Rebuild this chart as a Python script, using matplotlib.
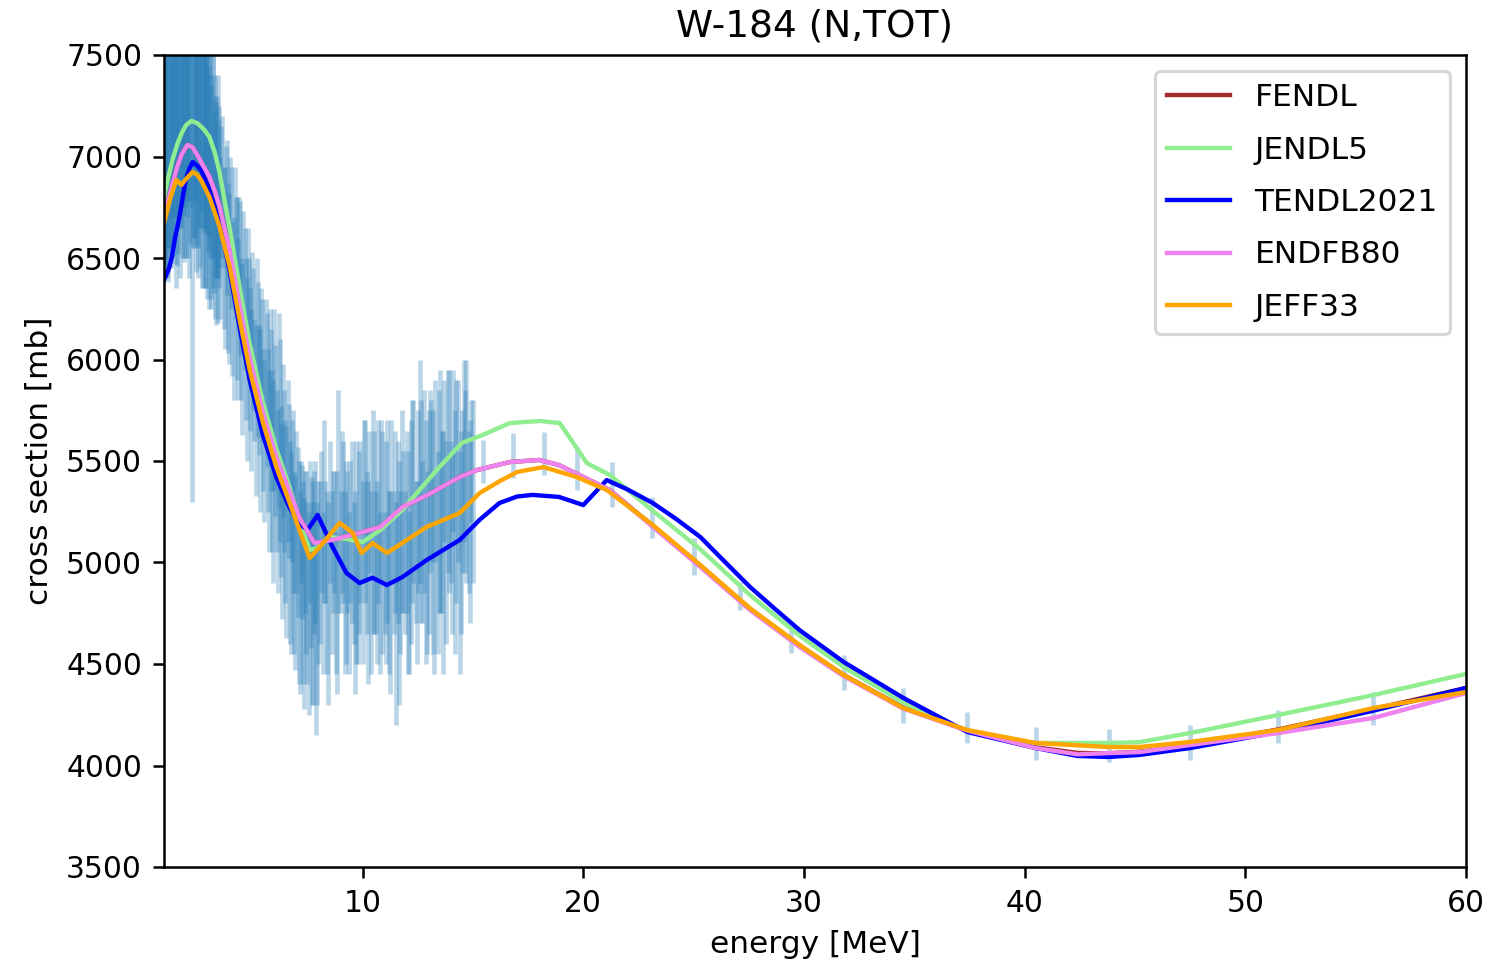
import numpy as np
import matplotlib
matplotlib.use('Agg')
import matplotlib.pyplot as plt

# experimental points (energy MeV, cross section mb, uncertainty mb)
expE = [1.00, 1.05, 1.10, 1.15, 1.20, 1.25, 1.30, 1.35, 1.40, 1.45,
        1.50, 1.55, 1.60, 1.65, 1.70, 1.75, 1.80, 1.85, 1.90, 1.95,
        2.00, 2.05, 2.10, 2.15, 2.20, 2.25, 2.30, 2.35, 2.40, 2.45,
        2.50, 2.55, 2.60, 2.65, 2.70, 2.75, 2.80, 2.85, 2.90, 2.95,
        3.00, 3.05, 3.10, 3.15, 3.20, 3.25, 3.30, 3.35, 3.40, 3.45,
        3.50,
        1.025, 1.125, 1.225, 1.325, 1.425, 1.525, 1.625, 1.725, 1.825, 1.925,
        2.025, 2.125, 2.225, 2.325, 2.425, 2.525, 2.625, 2.725, 2.825, 2.925,
        3.025, 3.125, 3.225, 3.325, 3.425,
        3.6, 3.7, 3.8, 3.9, 4.0, 4.1, 4.2, 4.3, 4.4, 4.5,
        4.6, 4.7, 4.8, 4.9, 5.0, 5.1, 5.2, 5.3, 5.4, 5.5,
        5.6, 5.7, 5.8, 5.9, 6.0, 6.1, 6.2, 6.3, 6.4, 6.5,
        6.6, 6.7, 6.8, 6.9, 7.0, 7.1, 7.2, 7.3, 7.4, 7.5,
        7.6, 7.7, 7.8, 7.9, 8.0, 8.1, 8.2, 8.3, 8.4, 8.5,
        8.6, 8.7, 8.8, 8.9, 9.0, 9.1, 9.2, 9.3, 9.4, 9.5,
        9.6, 9.7, 9.8, 9.9, 10.0, 10.1, 10.2, 10.3, 10.4, 10.5,
        10.6, 10.7, 10.8, 10.9, 11.0, 11.1, 11.2, 11.3, 11.4, 11.5,
        11.6, 11.7, 11.8, 11.9, 12.0, 12.1, 12.2, 12.3, 12.4, 12.5,
        12.6, 12.7, 12.8, 12.9, 13.0, 13.1, 13.2, 13.3, 13.4, 13.5,
        13.6, 13.7, 13.8, 13.9, 14.0, 14.1, 14.2, 14.3, 14.4, 14.5,
        14.6, 14.7, 14.8, 14.9, 15.0,
        3.55, 3.65, 3.75, 3.85, 3.95, 4.05, 4.15, 4.25, 4.35, 4.45,
        4.55, 4.65, 4.75, 4.85, 4.95, 5.05, 5.15, 5.25, 5.35, 5.45,
        5.55, 5.65, 5.75, 5.85, 5.95, 6.05, 6.15, 6.25, 6.35, 6.45,
        6.55, 6.65, 6.75, 6.85, 6.95, 7.05, 7.15, 7.25, 7.35, 7.45,
        7.55, 7.65, 7.75, 7.85, 7.95,
        8.05, 8.25, 8.45, 8.65, 8.85, 9.05, 9.25, 9.45, 9.65, 9.85,
        10.05, 10.25, 10.45, 10.65, 10.85, 11.05, 11.25, 11.45, 11.65, 11.85,
        12.05, 12.25, 12.45, 12.65, 12.85, 13.05, 13.25, 13.45, 13.65, 13.85,
        14.05, 14.25, 14.45, 14.65, 14.85,
        15.44, 16.8, 18.2, 19.7, 21.3, 23.1, 25.0, 27.1, 29.4, 31.8,
        34.5, 37.4, 40.5, 43.8, 47.5, 51.5, 55.8]
expXS = [7020, 6950, 7100, 7050, 6980, 7150, 7080, 7200, 7010, 7180,
         7120, 7250, 7060, 7220, 7150, 7300, 7100, 7260, 7180, 7350,
         7150, 7280, 7200, 7380, 7120, 6100, 7250, 7150, 7330, 7080,
         7260, 7100, 7300, 7050, 7220, 7000, 7180, 6950, 7120, 6900,
         7080, 6850, 7000, 6800, 6950, 6780, 6900, 6720, 6850, 6680,
         6800,
         7100, 6950, 7200, 7050, 7250, 7000, 7300, 7100, 7350, 7150,
         7300, 7100, 7400, 7150, 7300, 7050, 7250, 7000, 7200, 6950,
         7100, 6850, 7000, 6750, 6900,
         6800, 6550, 6750, 6450, 6700, 6300, 6600, 6350, 6500, 6150,
         6450, 6100, 6350, 6000, 6250, 5900, 6150, 5850, 6050, 5700,
         6000, 5650, 5900, 5500, 5800, 5450, 5750, 5350, 5600, 5250,
         5500, 5100, 5350, 5000, 5250, 4950, 5200, 4900, 5100, 4850,
         5150, 4800, 5050, 4700, 4950, 5200, 4850, 5100, 4900, 5250,
         4950, 5150, 4800, 5300, 5050, 5200, 4900, 5100, 4850, 5150,
         4950, 5050, 4800, 5200, 4950, 5250, 5050, 5300, 4900, 5150,
         5000, 5250, 4850, 5100, 4950, 5200, 4900, 5300, 5000, 4750,
         5150, 4950, 5250, 5000, 5200, 4850, 5150, 5350, 5050, 5300,
         5450, 5100, 5350, 5000, 5200, 5400, 5150, 5450, 5050, 5350,
         5200, 5500, 5100, 5400, 5250, 5550, 5150, 5450, 5000, 5350,
         5550, 5450, 5250, 5500, 5350,
         6600, 6850, 6500, 6700, 6400, 6600, 6250, 6500, 6200, 6400,
         6050, 6300, 5950, 6200, 5850, 6100, 5750, 6000, 5700, 5950,
         5600, 5850, 5500, 5750, 5400, 5650, 5300, 5600, 5200, 5450,
         5150, 5400, 5050, 5300, 4950, 5150, 4850, 5100, 4800, 5000,
         4750, 5000, 4850, 5100, 4800,
         5000, 5250, 4800, 5100, 4900, 5250, 5000, 5150, 4850, 5100,
         5300, 4900, 5200, 4950, 5300, 5050, 4850, 5200, 4900, 5150,
         5000, 5300, 4950, 5250, 5100, 5400, 4950, 5300, 5050, 5450,
         5100, 5350, 5150, 5400, 5200,
         5497, 5527, 5537, 5463, 5384, 5222, 5030, 4835, 4616, 4458,
         4296, 4187, 4108, 4099, 4113, 4192, 4281]
expErr = [600, 550, 650, 500, 600, 700, 550, 650, 500, 600,
          650, 550, 600, 700, 500, 650, 600, 550, 700, 600,
          650, 500, 700, 600, 550, 800, 650, 600, 550, 650,
          700, 550, 650, 600, 500, 650, 550, 600, 500, 600,
          550, 600, 500, 550, 600, 450, 500, 550, 450, 500,
          450,
          600, 550, 650, 600, 550, 650, 600, 700, 600, 650,
          600, 700, 650, 600, 700, 650, 600, 650, 550, 600,
          500, 550, 500, 550, 500,
          350, 400, 300, 420, 300, 380, 350, 450, 300, 350,
          280, 400, 300, 350, 280, 300, 350, 320, 300, 350,
          300, 400, 350, 450, 450, 400, 480, 420, 380, 450,
          400, 500, 350, 450, 400, 550, 300, 500, 350, 450,
          350, 500, 400, 550, 450, 350, 400, 300, 450, 350,
          400, 300, 350, 550, 300, 400, 450, 350, 400, 450,
          350, 550, 300, 400, 450, 450, 400, 350, 450, 500,
          350, 450, 400, 550, 300, 500, 450, 400, 350, 550,
          450, 400, 500, 350, 450, 400, 550, 450, 350, 450,
          550, 400, 500, 450, 550, 400, 600, 450, 500, 600,
          450, 400, 500, 550, 350, 400, 600, 450, 550, 400,
          450, 550, 400, 300, 450,
          400, 350, 450, 380, 420, 350, 450, 300, 400, 380,
          420, 350, 450, 300, 400, 350, 420, 380, 450, 350,
          400, 380, 450, 400, 500, 420, 450, 500, 480, 400,
          520, 380, 500, 450, 480, 420, 500, 380, 520, 450,
          500, 420, 550, 400, 500,
          400, 450, 500, 350, 550, 400, 500, 350, 500, 450,
          400, 500, 550, 450, 400, 550, 500, 450, 600, 400,
          550, 500, 450, 550, 600, 450, 500, 550, 600, 500,
          450, 550, 500, 450, 500,
          105, 110, 105, 105, 110, 100, 90, 70, 62, 86,
          86, 76, 82, 82, 86, 81, 81]

# evaluated libraries
fendlE = [1.0, 1.2, 1.4, 1.6, 1.8, 2.06, 2.3, 2.6, 2.8, 3.06,
          3.3, 3.5, 3.97, 4.42, 4.88, 5.48, 6.09, 6.69, 7.14, 7.82,
          8.64, 9.86, 10.8, 11.8, 12.9, 14.4, 15.2, 16.67, 18.0, 18.9,
          20.0, 21.2, 23.15, 25.3, 27.55, 29.8, 31.8, 34.5, 37.4, 40.5,
          42.4, 43.8, 45.2, 47.5, 51.5, 55.8, 60.0]
fendlXS = [6700, 6790, 6870, 6950, 7010, 7057, 7045, 6990, 6950, 6899,
           6830, 6760, 6540, 6270, 6010, 5740, 5520, 5350, 5220, 5096,
           5111, 5146, 5175, 5273, 5330, 5421, 5456, 5495, 5505, 5480,
           5421, 5357, 5180, 4985, 4772, 4590, 4446, 4285, 4172, 4090,
           4062, 4060, 4068, 4098, 4178, 4278, 4382]

jendlE = [1.0, 1.2, 1.4, 1.6, 1.8, 2.0, 2.24, 2.5, 2.8, 3.06,
          3.3, 3.5, 3.97, 4.42, 4.88, 5.48, 6.09, 6.69, 7.14, 7.6,
          7.9, 8.5, 9.3, 10.0, 10.8, 11.8, 12.6, 13.36, 14.5, 15.44,
          16.67, 18.03, 18.93, 19.7, 20.16, 21.2, 23.15, 25.3, 27.55, 29.8,
          31.8, 34.5, 37.4, 40.5, 43.8, 45.2, 47.5, 51.5, 55.8, 60.0]
jendlXS = [6800, 6900, 6990, 7060, 7115, 7155, 7175, 7165, 7135, 7096,
           7020, 6930, 6650, 6360, 6080, 5790, 5560, 5370, 5200, 5061,
           5070, 5126, 5115, 5100, 5160, 5259, 5360, 5456, 5589, 5628,
           5687, 5697, 5687, 5564, 5490, 5431, 5255, 5065, 4840, 4640,
           4485, 4310, 4170, 4111, 4111, 4115, 4160, 4249, 4347, 4451]

tendlE = [1.0, 1.2, 1.36, 1.5, 1.7, 1.98, 2.15, 2.3, 2.5, 2.7,
          3.06, 3.5, 3.97, 4.42, 4.88, 5.48, 6.09, 6.69, 7.14, 7.5,
          7.96, 8.64, 9.27, 9.86, 10.45, 11.1, 11.8, 12.9, 14.4, 15.3,
          16.2, 17.0, 17.7, 18.9, 20.0, 21.06, 22.0, 23.15, 24.2, 25.3,
          26.4, 27.55, 28.7, 29.8, 31.8, 34.5, 37.4, 40.5, 42.4, 43.8,
          45.2, 47.5, 51.5, 55.8, 60.0]
tendlXS = [6392, 6440, 6505, 6600, 6702, 6884, 6940, 6973, 6955, 6930,
           6835, 6680, 6440, 6160, 5900, 5630, 5420, 5270, 5190, 5160,
           5234, 5076, 4948, 4899, 4925, 4889, 4928, 5012, 5111, 5210,
           5293, 5325, 5333, 5323, 5283, 5406, 5360, 5293, 5215, 5126,
           5005, 4880, 4770, 4667, 4510, 4333, 4165, 4086, 4047, 4042,
           4052, 4086, 4165, 4270, 4382]

endfE = [1.0, 1.2, 1.4, 1.6, 1.8, 2.06, 2.3, 2.6, 2.8, 3.06,
         3.3, 3.5, 3.97, 4.42, 4.88, 5.48, 6.09, 6.69, 7.14, 7.82,
         8.64, 9.86, 10.8, 11.8, 12.9, 14.4, 15.2, 16.67, 18.0, 18.9,
         20.0, 21.2, 23.15, 25.3, 27.55, 29.8, 31.8, 34.5, 37.4, 40.5,
         42.4, 43.8, 45.2, 47.5, 51.5, 55.8, 60.0]
endfXS = [6700, 6790, 6870, 6950, 7010, 7057, 7045, 6990, 6950, 6899,
          6830, 6760, 6540, 6270, 6010, 5740, 5520, 5350, 5220, 5096,
          5111, 5146, 5175, 5273, 5330, 5421, 5456, 5495, 5505, 5480,
          5421, 5357, 5175, 4978, 4766, 4584, 4440, 4280, 4172, 4086,
          4055, 4061, 4066, 4101, 4160, 4234, 4357]

jeffE = [1.0, 1.3, 1.56, 1.79, 2.0, 2.3, 2.5, 2.7, 3.06, 3.5,
         3.97, 4.42, 4.88, 5.48, 6.09, 6.69, 7.14, 7.6, 8.05, 8.96,
         9.55, 9.95, 10.45, 11.1, 11.8, 12.9, 14.4, 15.3, 16.2, 17.0,
         18.2, 19.7, 21.06, 23.15, 25.3, 27.55, 29.8, 31.8, 34.5, 37.4,
         40.5, 43.8, 45.2, 47.5, 51.5, 55.8, 60.0]
jeffXS = [6672, 6800, 6884, 6860, 6890, 6924, 6910, 6880, 6800, 6660,
          6460, 6200, 5950, 5690, 5470, 5295, 5160, 5022, 5076, 5195,
          5146, 5047, 5096, 5047, 5096, 5175, 5244, 5342, 5400, 5446,
          5470, 5421, 5357, 5185, 4988, 4775, 4594, 4446, 4283, 4175,
          4111, 4091, 4091, 4116, 4175, 4283, 4362]

libs = [('FENDL', fendlE, fendlXS, 'brown'),
        ('JENDL5', jendlE, jendlXS, 'lightgreen'),
        ('TENDL2021', tendlE, tendlXS, 'blue'),
        ('ENDFB80', endfE, endfXS, 'violet'),
        ('JEFF33', jeffE, jeffXS, 'orange')]

def main():
    fig = plt.figure(figsize=(1489/225, 969/225), dpi=225)
    ax = fig.add_axes([164/1489, 1 - 867/969, (1466 - 164)/1489, (867 - 55)/969])

    ax.errorbar(expE, expXS, yerr=expErr, fmt='none', ecolor='tab:blue', alpha=0.3)
    for name, e, xs, c in libs:
        ax.plot(e, xs, color=c, label=name, lw=1.4)

    ax.set_xlim(1, 60)
    ax.set_ylim(3500, 7500)
    ax.tick_params(labelsize=9.5)
    ax.set_xlabel('energy [MeV]')
    ax.set_ylabel('cross section [mb]')
    ax.set_title('W-184 (N,TOT)')
    ax.legend(loc='upper right', labelspacing=0.75)
    fig.savefig('out.png', dpi=225)

if __name__ == "__main__":
    main()
